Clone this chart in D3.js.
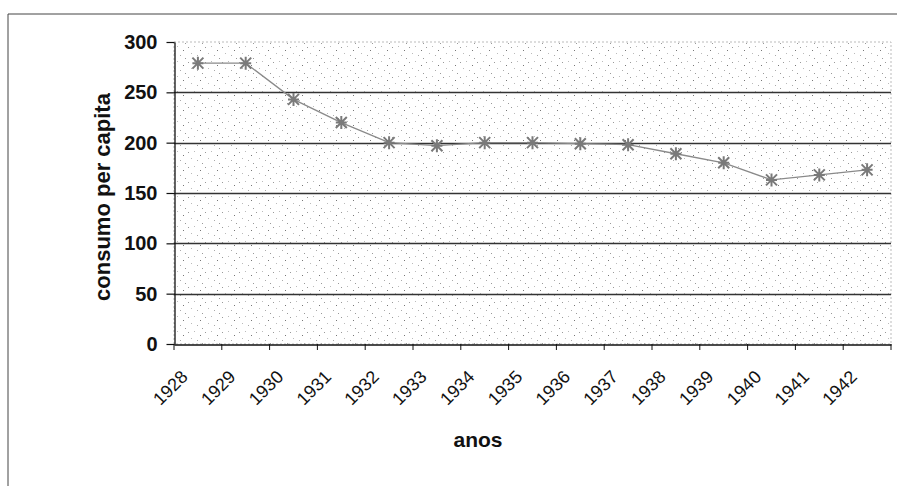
<!DOCTYPE html>
<html>
<head>
<meta charset="utf-8">
<script src="https://cdn.jsdelivr.net/npm/d3@7"></script>
<style>
  html, body { margin: 0; padding: 0; background: #fff; }
  svg { display: block; font-family: "Liberation Sans", Arial, sans-serif; }
</style>
</head>
<body>
<svg id="chart" width="897" height="486"></svg>
<script>
const years = ["1928","1929","1930","1931","1932","1933","1934","1935","1936","1937","1938","1939","1940","1941","1942"];
const consumo = [279, 279, 243, 220, 200, 197, 200, 200, 199, 198, 189, 180, 163, 168, 173];
const yTicks = [0, 50, 100, 150, 200, 250, 300];
const yTitle = "consumo per capita";
const xTitle = "anos";

const svg = d3.select("#chart");
const W = 897, H = 486;
const m = { left: 174, right: 891, top: 42, bottom: 344 };

// outer chart border
svg.append("path")
  .attr("d", `M8,${H} L8,14 L${W},14`)
  .attr("fill", "none").attr("stroke", "#444").attr("stroke-width", 1);

// stipple pattern for plot area
const defs = svg.append("defs");
const pat = defs.append("pattern").attr("id", "stip")
  .attr("patternUnits", "userSpaceOnUse").attr("width", 17).attr("height", 15);
const dots = [[1,2,"#999"],[7,1,"#bbb"],[13,5,"#777"],[4,8,"#bbb"],[10,10,"#aaa"],[15,13,"#999"]];
pat.selectAll("rect").data(dots).join("rect")
  .attr("x", d => d[0]).attr("y", d => d[1]).attr("width", 1).attr("height", 1)
  .attr("fill", d => d[2]);

const x = d3.scaleBand().domain(years).range([m.left, m.right]).padding(0);
const y = d3.scaleLinear().domain([0, 300]).range([m.bottom, m.top]);

// plot area
svg.append("rect")
  .attr("x", m.left).attr("y", m.top)
  .attr("width", m.right - m.left).attr("height", m.bottom - m.top)
  .attr("fill", "url(#stip)")
  .attr("stroke", "#bbb").attr("stroke-dasharray", "2,2").attr("stroke-width", 1);

// gridlines
svg.append("g").selectAll("line")
  .data(yTicks.filter(v => v > 0 && v < 300)).join("line")
  .attr("x1", m.left).attr("x2", m.right)
  .attr("y1", d => Math.round(y(d)) + 0.5).attr("y2", d => Math.round(y(d)) + 0.5)
  .attr("stroke", "#333").attr("stroke-width", 1.3);

// y axis
const yAxis = d3.axisLeft(y).tickValues(yTicks).tickSize(8).tickPadding(9).tickSizeOuter(0);
const gy = svg.append("g").attr("transform", `translate(${m.left + 0.5},0)`).call(yAxis);
gy.select(".domain").attr("stroke", "#111").attr("stroke-width", 1.3);
gy.selectAll(".tick line").attr("stroke", "#111").attr("stroke-width", 1.2);
gy.selectAll(".tick text").attr("font-size", 20).attr("font-weight", "bold").attr("fill", "#111")
  .attr("font-family", "Liberation Sans, Arial, sans-serif");

// x axis
const xAxis = d3.axisBottom(x).tickSize(0).tickSizeOuter(0).tickFormat("");
const gx = svg.append("g").attr("transform", `translate(0,${m.bottom + 0.5})`).call(xAxis);
gx.select(".domain").attr("stroke", "#111").attr("stroke-width", 1.3);
gx.selectAll(".tick").remove();
// category boundary ticks
const bounds = years.map(d => x(d)).concat([m.right]);
svg.append("g").selectAll("line").data(bounds).join("line")
  .attr("x1", d => d).attr("x2", d => d)
  .attr("y1", m.bottom).attr("y2", m.bottom + 6)
  .attr("stroke", "#111").attr("stroke-width", 1);
// rotated labels
svg.append("g").selectAll("text").data(years).join("text")
  .attr("transform", d => `translate(${x(d) + x.bandwidth() / 2 - 9},${m.bottom + 34}) rotate(-45)`)
  .attr("text-anchor", "end")
  .attr("font-size", 18).attr("fill", "#111")
  .text(d => d);

// line
const cx = d => x(d) + x.bandwidth() / 2;
const line = d3.line().x((d, i) => cx(years[i])).y(d => y(d));
svg.append("path").datum(consumo)
  .attr("d", line).attr("fill", "none")
  .attr("stroke", "#8a8a8a").attr("stroke-width", 1.3);

// star markers
const r = 5.5;
const star = `M${-r},${-r}L${r},${r}M${-r},${r}L${r},${-r}M0,${-r - 1}L0,${r + 1}M${-r},0L${r},0`;
svg.append("g").selectAll("path").data(consumo).join("path")
  .attr("transform", (d, i) => `translate(${cx(years[i])},${y(d)})`)
  .attr("d", star)
  .attr("fill", "none").attr("stroke", "#7a7a7a").attr("stroke-width", 2);

// titles
svg.append("text")
  .attr("transform", `translate(110,197) rotate(-90)`)
  .attr("text-anchor", "middle").attr("font-weight", "bold").attr("font-size", 22)
  .attr("fill", "#111").text(yTitle);
svg.append("text")
  .attr("x", 478).attr("y", 447)
  .attr("text-anchor", "middle").attr("font-weight", "bold").attr("font-size", 21)
  .attr("fill", "#111").text(xTitle);
</script>
</body>
</html>
